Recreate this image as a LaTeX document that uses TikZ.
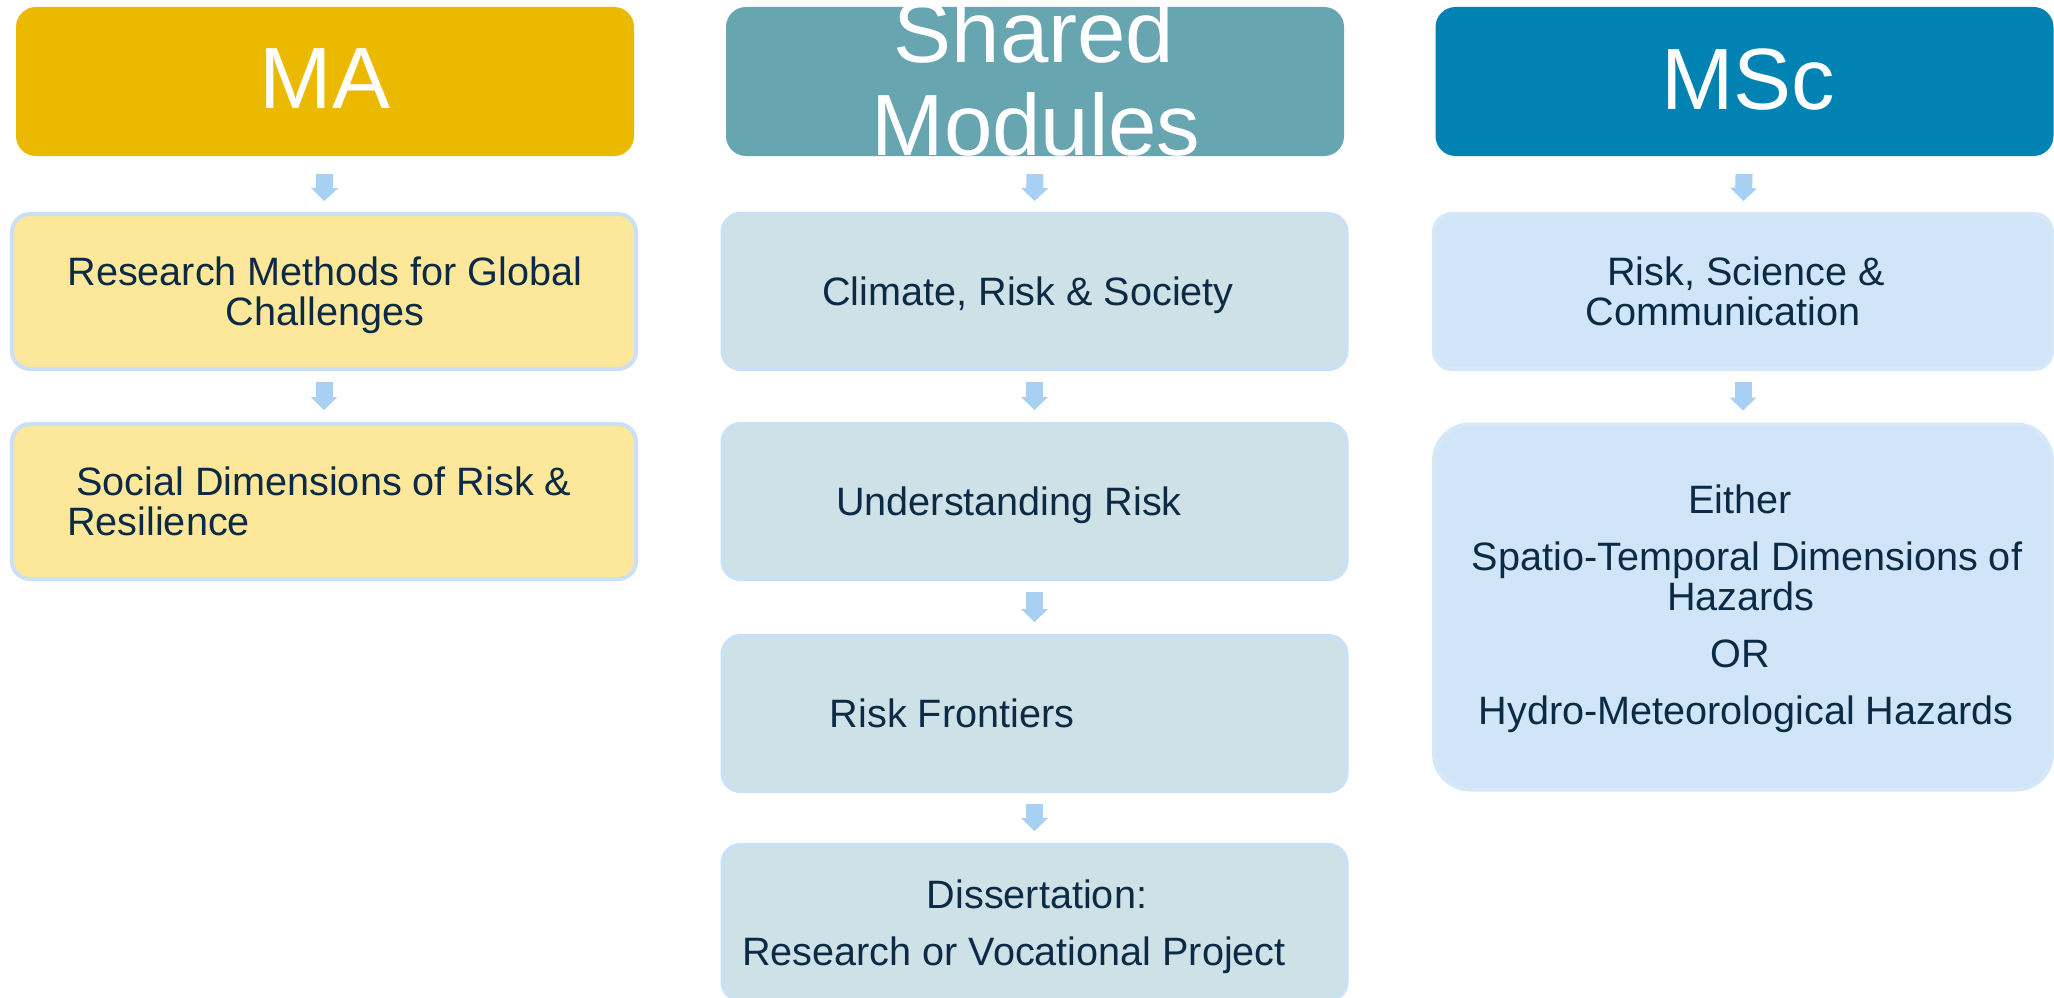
\documentclass[tikz,border=0pt]{standalone}
\usepackage{fontspec}
\setmainfont{Liberation Sans}
\usetikzlibrary{arrows.meta}
\definecolor{maC}{HTML}{EBBA00}
\definecolor{shC}{HTML}{67A5B0}
\definecolor{msC}{HTML}{0083B3}
\definecolor{maF}{HTML}{FDE79A}
\definecolor{shF}{HTML}{CEE1E6}
\definecolor{msF}{HTML}{D1E5F8}
\definecolor{bord}{HTML}{C9E0F5}
\definecolor{msB}{HTML}{D6E8F8}
\definecolor{arrC}{HTML}{A8D0F3}
\definecolor{navy}{HTML}{0B2A45}
\begin{document}
\begin{tikzpicture}[x=1pt,y=-1pt,
  hdr/.style={rectangle, rounded corners=20pt, inner sep=0pt, outer sep=0pt, minimum width=618pt, minimum height=149pt},
  modbox/.style={rectangle, rounded corners=18pt, draw=bord, line width=4pt, inner sep=0pt, outer sep=0pt, minimum width=624pt, minimum height=155pt},
  txt/.style={anchor=base, text=navy, font=\fontsize{39.6}{40}\selectfont, inner sep=0pt},
  txtw/.style={anchor=base west, text=navy, font=\fontsize{39.6}{40}\selectfont, inner sep=0pt},
  big/.style={anchor=base, text=white, font=\fontsize{87}{92}\selectfont, inner sep=0pt},
  flow/.style={draw=arrC, line width=17pt, line cap=butt, -{Triangle[width=27pt,length=13pt,line width=0pt]}},
  fromhdr/.style={flow, shorten <=18pt, shorten >=13pt},
  frombox/.style={flow, shorten <=13pt, shorten >=14pt}
]
\useasboundingbox (0,0) rectangle (2054,998);
\clip (0,0) rectangle (2054,998);
\fill[white] (0,0) rectangle (2054,998);

% headers
\node[hdr, fill=maC] (hMA) at (325,81.5) {};
\node[hdr, fill=shC] (hSH) at (1035,81.5) {};
\node[hdr, fill=msC] (hMS) at (1744.5,81.5) {};
\node[big] (tMA) at (325,108) {MA};
\node[big] (tSH1) at (1034,63) {Shared};
\node[big] (tSH2) at (1036,155) {Modules};
\node[big] (tMS) at (1748,109) {MSc};

% MA column
\node[modbox, fill=maF] (a1) at (324,291.5) {};
\node[modbox, fill=maF] (a2) at (324,501.5) {};
\node[txt] (ta1a) at (325,285) {Research Methods for Global};
\node[txt] (ta1b) at (325,325) {Challenges};
\node[txtw] (ta2a) at (76,495) {Social Dimensions of Risk \&};
\node[txtw] (ta2b) at (67,535) {Resilience};

% Shared column
\node[modbox, fill=shF] (s1) at (1034.5,291.5) {};
\node[modbox, fill=shF] (s2) at (1034.5,501.5) {};
\node[modbox, fill=shF] (s3) at (1034.5,713.5) {};
\node[modbox, fill=shF] (s4) at (1034.5,922.5) {};
\node[txt] (ts1) at (1028,305.5) {Climate, Risk \& Society};
\node[txt] (ts2) at (1009,515.5) {Understanding Risk};
\node[txt] (ts3) at (952,727.5) {Risk Frontiers};
\node[txt] (ts4a) at (1037,908) {Dissertation:};
\node[txt] (ts4b) at (1014,965) {Research or Vocational Project};

% MSc column
\node[modbox, fill=msF, draw=msB, minimum width=618pt] (m1) at (1743,291.5) {};
\node[modbox, fill=msF, draw=msB, minimum width=618pt, minimum height=365pt, rounded corners=36pt] (m2) at (1743,607) {};
\node[txt] (tm1a) at (1746,285) {Risk, Science \&};
\node[txt] (tm1b) at (1723,325) {Communication};
\node[txt] (tm2a) at (1740,513) {Either};
\node[txt] (tm2b) at (1747,570) {Spatio-Temporal Dimensions of};
\node[txt] (tm2c) at (1741,610) {Hazards};
\node[txt] (tm2d) at (1740,667) {OR};
\node[txt] (tm2e) at (1746,724) {Hydro-Meteorological Hazards};

% arrows
\draw[fromhdr] (hMA.south) -- (a1.north);
\draw[frombox] (a1.south) -- (a2.north);
\draw[fromhdr] (hSH.south) -- (s1.north);
\draw[frombox] (s1.south) -- (s2.north);
\draw[frombox] (s2.south) -- (s3.north);
\draw[frombox] (s3.south) -- (s4.north);
\draw[fromhdr] (hMS.south) -- (m1.north);
\draw[frombox] (m1.south) -- (m2.north);
\end{tikzpicture}
\end{document}
